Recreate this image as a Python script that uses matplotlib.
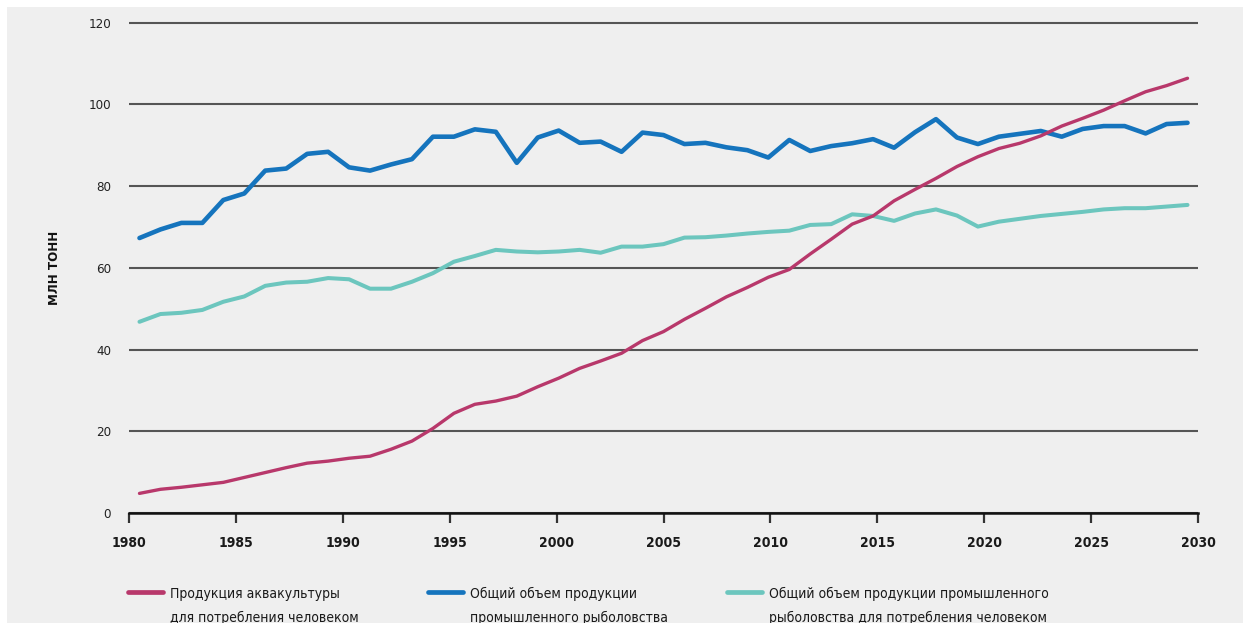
import numpy as np
import matplotlib
matplotlib.use("Agg")
import matplotlib.pyplot as plt
from matplotlib.patches import Rectangle
from matplotlib.legend_handler import HandlerLine2D
from matplotlib import font_manager as fm

# ---------------- data ----------------
years = list(range(1980, 2031))

aquaculture_food = [
    4.8, 5.8, 6.3, 6.9, 7.5, 8.7, 9.9, 11.1, 12.2, 12.7,
    13.4, 13.9, 15.6, 17.6, 20.7, 24.4, 26.6, 27.4, 28.6, 30.9,
    33.0, 35.4, 37.2, 39.1, 42.2, 44.4, 47.4, 50.1, 52.9, 55.2,
    57.7, 59.6, 63.4, 67.0, 70.7, 72.7, 76.4, 79.2, 81.9, 84.8,
    87.2, 89.2, 90.5, 92.3, 94.7, 96.6, 98.6, 100.9, 103.1, 104.6, 106.4,
]

capture_total = [
    67.3, 69.4, 71.0, 71.0, 76.6, 78.2, 83.8, 84.3, 87.9, 88.4,
    84.6, 83.8, 85.3, 86.6, 92.1, 92.1, 93.9, 93.3, 85.7, 91.9,
    93.6, 90.6, 90.9, 88.4, 93.1, 92.5, 90.3, 90.6, 89.5, 88.8,
    87.0, 91.3, 88.6, 89.8, 90.5, 91.5, 89.4, 93.2, 96.4, 91.9,
    90.3, 92.1, 92.8, 93.5, 92.1, 94.0, 94.7, 94.7, 92.9, 95.2, 95.5,
]

capture_food = [
    46.8, 48.7, 49.0, 49.7, 51.7, 53.0, 55.6, 56.4, 56.6, 57.5,
    57.2, 54.9, 54.9, 56.6, 58.7, 61.5, 62.9, 64.4, 64.0, 63.8,
    64.0, 64.4, 63.7, 65.2, 65.2, 65.8, 67.4, 67.5, 67.9, 68.4,
    68.8, 69.1, 70.5, 70.7, 73.1, 72.7, 71.5, 73.3, 74.3, 72.8,
    70.1, 71.3, 72.0, 72.7, 73.2, 73.7, 74.3, 74.6, 74.6, 75.0, 75.4,
]

y_ticks = [0, 20, 40, 60, 80, 100, 120]
x_tick_labels = ["1980", "1985", "1990", "1995", "2000", "2005",
                 "2010", "2015", "2020", "2025", "2030"]
y_label = "МЛН ТОНН"
label_aqua = "Продукция аквакультуры\nдля потребления человеком"
label_total = "Общий объем продукции\nпромышленного рыболовства"
label_food = "Общий объем продукции промышленного\nрыболовства для потребления человеком"

# ---------------- style ----------------
FAM = ['DejaVu Sans']
STRETCH = 'condensed'
C_PINK = '#b8386b'
C_BLUE = '#1574bd'
C_TEAL = '#6cc6be'
C_GRID = '#555555'
BG = '#efefef'

W, H = 1243, 623
fig = plt.figure(figsize=(W / 100, H / 100), dpi=100, facecolor='white')
fig.patches.append(Rectangle((7 / W, 0), 1 - 7 / W, 1 - 7 / H,
                             transform=fig.transFigure, facecolor=BG,
                             edgecolor='none', zorder=-10))

px_per_unit = (513 - 22.7) / 120.0
top_px = 513 - 121 * px_per_unit
ax = fig.add_axes([129 / W, 1 - 513 / H, (1198 - 129) / W, (513 - top_px) / H])
ax.set_facecolor('none')

x = np.array(years, dtype=float)
ax.set_xlim(x[0] - 0.5, x[-1] + 0.5)
ax.set_ylim(0, 121)

l_blue, = ax.plot(x, capture_total, color=C_BLUE, lw=3.3, solid_joinstyle='round',
                  solid_capstyle='round', zorder=3)
l_teal, = ax.plot(x, capture_food, color=C_TEAL, lw=2.9, solid_joinstyle='round',
                  solid_capstyle='round', zorder=3)
l_pink, = ax.plot(x, aquaculture_food, color=C_PINK, lw=2.4, solid_joinstyle='round',
                  solid_capstyle='round', zorder=4)

ax.set_yticks(y_ticks)
ax.set_yticklabels([str(v) for v in y_ticks], family=FAM, stretch=STRETCH,
                   fontsize=9.5, color='#222222')
ax.tick_params(axis='y', length=0, pad=13)
ax.yaxis.grid(True, color=C_GRID, lw=1.5, zorder=1)
ax.set_axisbelow(True)

n_span = len(years)
tick_pos = x[0] - 0.5 + np.arange(len(x_tick_labels)) * n_span / (len(x_tick_labels) - 1)
ax.set_xticks(tick_pos)
ax.set_xticklabels(x_tick_labels, family=FAM, stretch=STRETCH, fontsize=10,
                   fontweight='bold', color='#1a1a1a')
ax.tick_params(axis='x', length=7.5, width=1.6, color='#333333', pad=9, direction='out')

for s in ['top', 'right', 'left']:
    ax.spines[s].set_visible(False)
ax.spines['bottom'].set_color('#111111')
ax.spines['bottom'].set_linewidth(1.8)
ax.spines['bottom'].set_zorder(5)

fig.text(55 / W, 1 - 268 / H, y_label, rotation=90, ha='center', va='center',
         family=FAM, stretch=STRETCH, fontweight='bold', fontsize=9.5, color='#111111')


# ---------------- legend ----------------
class TopHandler(HandlerLine2D):
    def __init__(self, shift, **kw):
        super().__init__(**kw)
        self.shift = shift

    def create_artists(self, legend, orig_handle, xdescent, ydescent, width,
                       height, fontsize, trans):
        arts = super().create_artists(legend, orig_handle, xdescent, ydescent,
                                      width, height, fontsize, trans)
        for a in arts:
            a.set_ydata(np.asarray(a.get_ydata(), dtype=float) + self.shift * fontsize)
        return arts


LEG_FS = 10
LINESP = 1.9
for handle, label, xpx in [(l_pink, label_aqua, 128),
                           (l_blue, label_total, 428),
                           (l_teal, label_food, 727)]:
    leg = fig.legend([handle], [label], loc='upper left',
                     bbox_to_anchor=(xpx / W, 1 - 587 / H),
                     frameon=False, borderpad=0, borderaxespad=0,
                     handlelength=2.5, handletextpad=0.5,
                     prop=fm.FontProperties(family=FAM, stretch=STRETCH, size=LEG_FS),
                     handler_map={handle: TopHandler(1.08)})
    for t in leg.get_texts():
        t.set_linespacing(LINESP)
        t.set_color('#1a1a1a')
    for lh in leg.get_lines():
        lh.set_linewidth(3.4)
        lh.set_solid_capstyle('round')

fig.savefig('out.png', dpi=100, facecolor=fig.get_facecolor())
